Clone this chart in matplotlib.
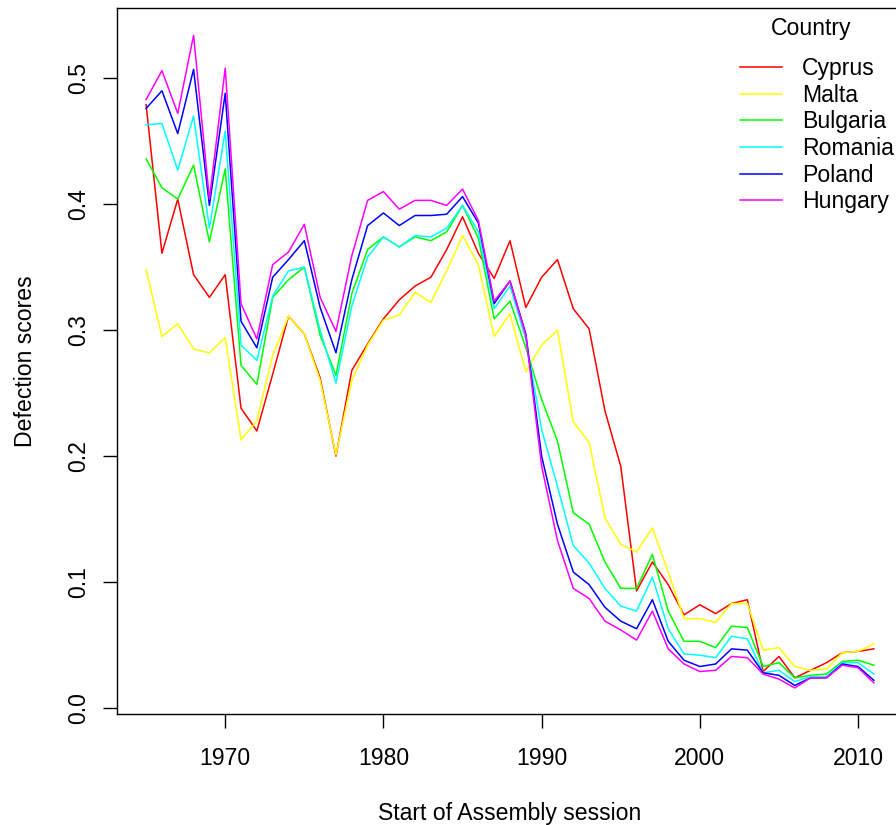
import matplotlib
matplotlib.use('Agg')
import matplotlib.pyplot as plot
import numpy as np

plot.rcParams['font.family'] = ['Liberation Sans', 'DejaVu Sans']

years = np.arange(1965, 2012)

cyprus = [0.479, 0.361, 0.404, 0.344, 0.326, 0.344, 0.238, 0.220, 0.265, 0.311,
          0.297, 0.262, 0.200, 0.268, 0.289, 0.309, 0.324, 0.335, 0.342, 0.364,
          0.390, 0.361, 0.341, 0.371, 0.318, 0.342, 0.356, 0.317, 0.301, 0.236,
          0.192, 0.093, 0.116, 0.098, 0.074, 0.082, 0.075, 0.083, 0.086, 0.029,
          0.041, 0.024, 0.030, 0.036, 0.044, 0.045, 0.047]
malta = [0.348, 0.295, 0.305, 0.285, 0.282, 0.294, 0.213, 0.228, 0.280, 0.311,
         0.297, 0.260, 0.201, 0.260, 0.288, 0.308, 0.312, 0.330, 0.322, 0.347,
         0.375, 0.352, 0.295, 0.313, 0.267, 0.288, 0.300, 0.227, 0.211, 0.151,
         0.130, 0.124, 0.143, 0.108, 0.071, 0.071, 0.068, 0.083, 0.083, 0.046,
         0.048, 0.033, 0.030, 0.031, 0.044, 0.045, 0.051]
bulgaria = [0.436, 0.413, 0.404, 0.431, 0.370, 0.428, 0.272, 0.257, 0.326, 0.340,
            0.350, 0.296, 0.264, 0.329, 0.364, 0.374, 0.366, 0.374, 0.371, 0.378,
            0.399, 0.373, 0.309, 0.323, 0.286, 0.245, 0.212, 0.155, 0.146, 0.116,
            0.095, 0.095, 0.122, 0.077, 0.053, 0.053, 0.048, 0.065, 0.064, 0.033,
            0.036, 0.024, 0.026, 0.027, 0.037, 0.038, 0.034]
romania = [0.463, 0.464, 0.427, 0.470, 0.381, 0.458, 0.288, 0.276, 0.327, 0.347,
           0.350, 0.300, 0.258, 0.319, 0.358, 0.374, 0.366, 0.375, 0.374, 0.381,
           0.399, 0.378, 0.317, 0.335, 0.293, 0.221, 0.176, 0.129, 0.115, 0.095,
           0.081, 0.077, 0.104, 0.063, 0.043, 0.042, 0.040, 0.057, 0.055, 0.028,
           0.030, 0.021, 0.025, 0.025, 0.036, 0.036, 0.027]
poland = [0.476, 0.490, 0.456, 0.507, 0.399, 0.488, 0.307, 0.286, 0.342, 0.356,
          0.371, 0.318, 0.282, 0.340, 0.383, 0.393, 0.383, 0.391, 0.391, 0.392,
          0.406, 0.385, 0.321, 0.339, 0.297, 0.200, 0.146, 0.108, 0.098, 0.080,
          0.069, 0.063, 0.086, 0.053, 0.038, 0.033, 0.035, 0.047, 0.046, 0.028,
          0.026, 0.018, 0.024, 0.024, 0.035, 0.033, 0.022]
hungary = [0.483, 0.506, 0.472, 0.534, 0.404, 0.508, 0.321, 0.293, 0.352, 0.362,
           0.384, 0.326, 0.299, 0.359, 0.403, 0.410, 0.396, 0.403, 0.403, 0.399,
           0.412, 0.387, 0.323, 0.339, 0.296, 0.192, 0.133, 0.095, 0.087, 0.069,
           0.062, 0.054, 0.077, 0.047, 0.035, 0.029, 0.030, 0.041, 0.040, 0.027,
           0.023, 0.016, 0.024, 0.024, 0.034, 0.032, 0.020]

countries = ['Cyprus', 'Malta', 'Bulgaria', 'Romania', 'Poland', 'Hungary']
colors = ['#FF0000', '#FFFF00', '#00FF00', '#00FFFF', '#0000FF', '#FF00FF']
series = [cyprus, malta, bulgaria, romania, poland, hungary]

fs = 16.6

fig = plot.figure(figsize=(8.96, 8.25), dpi=100)
ax = fig.add_axes([117/896, 1 - 714/825, 786/896, 706/825])

for s, c, name in zip(series, colors, countries):
	ax.plot(years, s, color=c, lw=1.1, label=name)

span = years[-1] - years[0]
ax.set_xlim(years[0] - 0.04*span, years[-1] + 0.04*span)
ax.set_ylim(-0.0047, 0.5557)

ax.set_xticks([1970, 1980, 1990, 2000, 2010])
ax.set_yticks([0.0, 0.1, 0.2, 0.3, 0.4, 0.5])
ax.set_yticklabels(['0.0', '0.1', '0.2', '0.3', '0.4', '0.5'], rotation=90, va='center')
ax.tick_params(direction='out', length=10, width=1, labelsize=fs)
ax.tick_params(axis='x', pad=14)
ax.tick_params(axis='y', pad=9)
for sp in ax.spines.values():
	sp.set_linewidth(1)

ax.set_xlabel('Start of Assembly session', fontsize=fs, labelpad=23)
ax.set_ylabel('Defection scores', fontsize=fs, labelpad=22)

fig.text(811/896, 1 - 29/825, 'Country', fontsize=fs, ha='center', va='center')
leg = ax.legend(loc='upper left', bbox_to_anchor=(740/896, 1 - 57/825), bbox_transform=fig.transFigure,
	frameon=False, fontsize=fs, borderpad=0, borderaxespad=0,
	handlelength=1.82, handletextpad=0.88, labelspacing=0.16)

fig.savefig('out.png', dpi=100)
#plot.show()
